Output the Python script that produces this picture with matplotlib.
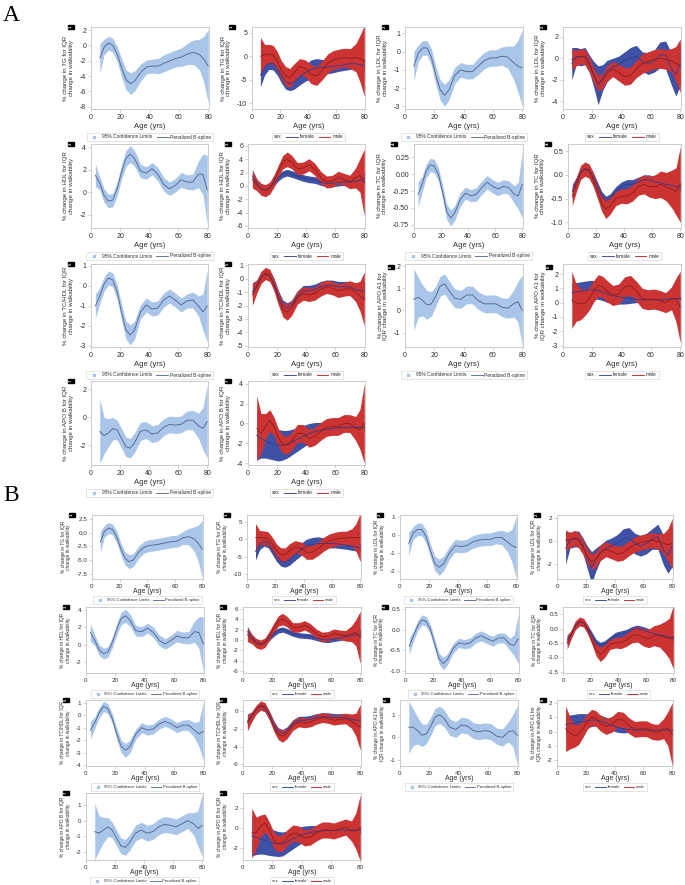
import numpy as np
import matplotlib
matplotlib.use("Agg")
import matplotlib.pyplot as plt
from matplotlib.lines import Line2D
from matplotlib.offsetbox import HPacker
from matplotlib.ticker import FormatStrFormatter

plt.rcParams['font.family'] = ['Liberation Sans', 'DejaVu Sans']

# ---------------- data ----------------
AGE6 = [6, 9, 12, 15, 18, 21, 24, 27, 30, 34, 38, 42, 46, 50, 54, 58, 62, 66, 70, 74, 77, 80]
AGE3 = [3, 6, 9, 12, 15, 18, 21, 24, 27, 30, 34, 38, 42, 46, 50, 54, 58, 62, 66, 70, 74, 77, 80]

# ---- panel A ----
TG_A = [-1.7, -0.2, 0.3, 0.0, -1.2, -3.0, -4.5, -5.0, -4.6, -3.5, -2.8, -2.7, -2.7, -2.3, -2.0, -1.7, -1.5, -1.1, -0.9, -1.2, -1.8, -2.7]
TG_A_HW = [1.9, 1.0, 0.9, 0.9, 1.0, 1.2, 1.3, 1.4, 1.3, 1.1, 0.9, 0.9, 1.0, 1.1, 1.1, 1.1, 1.2, 1.4, 1.6, 2.0, 3.0, 4.8]
TG_A_F = [-4.0, -2.5, -1.5, -1.5, -2.5, -4.2, -5.5, -5.8, -5.5, -4.5, -3.5, -2.8, -2.5, -2.4, -2.3, -2.2, -2.0, -1.8, -1.6, -1.6, -1.8, -2.0]
TG_A_F_HW = [2.5, 1.5, 1.3, 1.4, 1.5, 1.5, 1.5, 1.5, 1.5, 1.6, 1.8, 2.0, 2.0, 1.7, 1.4, 1.3, 1.2, 1.2, 1.2, 1.2, 1.3, 1.4]
TG_A_M = [0.0, 0.3, 0.5, 0.3, -1.0, -3.0, -4.2, -4.6, -3.5, -2.2, -2.6, -3.8, -4.2, -3.0, -1.5, -0.8, -0.5, -0.3, -0.5, -0.3, -0.5, -1.0]
TG_A_M_HW = [4.0, 2.2, 2.0, 2.0, 2.0, 2.0, 2.0, 2.0, 1.9, 1.7, 1.8, 2.0, 2.0, 2.0, 2.0, 2.0, 2.0, 2.0, 2.1, 3.0, 5.0, 7.5]

LDL_A = [-0.8, -0.1, 0.2, 0.2, -0.3, -1.3, -2.1, -2.4, -2.1, -1.3, -1.0, -1.1, -1.1, -0.8, -0.5, -0.35, -0.35, -0.25, -0.3, -0.6, -0.8, -0.9]
LDL_A_HW = [0.8, 0.45, 0.4, 0.4, 0.45, 0.5, 0.55, 0.6, 0.55, 0.45, 0.4, 0.4, 0.4, 0.45, 0.45, 0.45, 0.45, 0.5, 0.6, 0.9, 1.4, 2.1]
LDL_A_F = [-0.5, 0.2, 0.1, 0.2, -0.5, -1.5, -2.5, -1.8, -1.2, -0.8, -0.6, -0.2, 0.0, 0.2, -0.3, -0.5, -0.3, 0.3, 0.3, -1.0, -1.5, -0.5]
LDL_A_F_HW = [1.5, 0.8, 0.8, 0.8, 0.8, 1.2, 1.8, 1.2, 1.0, 0.8, 0.8, 0.8, 1.0, 1.0, 0.9, 1.0, 1.0, 1.2, 1.3, 1.5, 2.0, 2.0]
LDL_A_M = [-0.1, 0.0, 0.2, 0.1, -0.6, -1.6, -2.3, -2.1, -1.4, -1.0, -1.3, -1.7, -1.6, -1.0, -0.5, -0.3, -0.1, 0.0, -0.1, -0.2, -0.5, -0.7]
LDL_A_M_HW = [1.0, 0.7, 0.7, 0.7, 0.7, 0.7, 0.7, 0.7, 0.7, 0.7, 0.8, 0.8, 0.8, 0.8, 0.9, 0.9, 0.9, 0.9, 0.9, 1.1, 1.6, 2.5]

HDL_A = [1.5, 0.8, -0.3, -0.8, -0.7, 0.3, 1.8, 3.0, 3.4, 3.0, 1.9, 1.7, 2.1, 1.6, 0.7, 0.3, 0.6, 1.1, 0.9, 0.9, 1.6, 1.6, 0.2]
HDL_A_HW = [1.0, 0.6, 0.6, 0.6, 0.6, 0.6, 0.65, 0.7, 0.75, 0.7, 0.6, 0.55, 0.55, 0.6, 0.6, 0.6, 0.6, 0.65, 0.65, 0.7, 1.2, 1.8, 3.1]
HDL_A_F = [1.5, 0.5, -0.4, -0.6, -0.3, 0.5, 1.3, 1.8, 2.0, 1.8, 1.5, 1.2, 1.0, 0.9, 0.6, 0.4, 0.4, 0.5, 0.6, 0.6, 0.7, 0.8, 1.2]
HDL_A_F_HW = [1.0, 0.5, 0.5, 0.5, 0.5, 0.5, 0.5, 0.5, 0.5, 0.5, 0.5, 0.5, 0.5, 0.5, 0.5, 0.5, 0.5, 0.5, 0.5, 0.5, 0.5, 0.6, 0.8]
HDL_A_M = [1.0, 0.2, -0.5, -0.7, -0.3, 0.8, 2.3, 3.6, 4.0, 3.6, 2.6, 2.7, 3.2, 2.5, 1.3, 0.6, 0.7, 1.3, 1.0, 0.6, 1.2, 1.6, 0.5]
HDL_A_M_HW = [1.3, 0.9, 0.9, 0.9, 0.9, 0.9, 0.9, 1.0, 1.1, 1.0, 0.9, 0.9, 0.9, 0.9, 0.9, 0.9, 0.9, 0.9, 0.9, 1.0, 1.5, 2.5, 5.0]

TC_A = [-0.3, -0.15, 0.05, 0.14, 0.12, 0.0, -0.25, -0.55, -0.65, -0.58, -0.38, -0.28, -0.32, -0.3, -0.2, -0.12, -0.18, -0.22, -0.18, -0.2, -0.3, -0.32, -0.15]
TC_A_HW = [0.18, 0.12, 0.1, 0.1, 0.1, 0.1, 0.1, 0.11, 0.12, 0.11, 0.1, 0.09, 0.09, 0.1, 0.1, 0.1, 0.1, 0.1, 0.1, 0.1, 0.13, 0.2, 0.5]
TC_A_F = [-0.35, -0.15, 0.05, 0.13, 0.1, -0.05, -0.25, -0.45, -0.55, -0.5, -0.35, -0.25, -0.2, -0.2, -0.15, -0.1, -0.1, -0.15, -0.17, -0.2, -0.22, -0.25, -0.25]
TC_A_F_HW = [0.15, 0.1, 0.1, 0.1, 0.1, 0.1, 0.1, 0.1, 0.1, 0.1, 0.1, 0.1, 0.1, 0.1, 0.1, 0.1, 0.1, 0.1, 0.1, 0.1, 0.1, 0.1, 0.1]
TC_A_M = [-0.45, -0.2, 0.05, 0.12, 0.08, -0.1, -0.35, -0.6, -0.72, -0.65, -0.5, -0.45, -0.45, -0.38, -0.25, -0.2, -0.25, -0.25, -0.2, -0.25, -0.3, -0.35, -0.2]
TC_A_M_HW = [0.2, 0.15, 0.15, 0.15, 0.15, 0.15, 0.15, 0.17, 0.2, 0.18, 0.15, 0.15, 0.16, 0.17, 0.18, 0.2, 0.22, 0.25, 0.28, 0.3, 0.4, 0.5, 0.8]

TCHDL_A = [-1.0, -0.5, 0.1, 0.4, 0.3, -0.3, -1.3, -2.2, -2.45, -2.2, -1.3, -0.95, -1.15, -1.1, -0.7, -0.5, -0.7, -0.95, -0.75, -0.7, -1.0, -1.3, -1.0]
TCHDL_A_HW = [0.6, 0.4, 0.35, 0.35, 0.35, 0.35, 0.4, 0.45, 0.5, 0.45, 0.35, 0.35, 0.35, 0.35, 0.35, 0.35, 0.35, 0.35, 0.35, 0.4, 0.5, 0.9, 1.8]
TCHDL_A_F = [-1.0, -0.5, 0.1, 0.35, 0.2, -0.4, -1.3, -2.0, -2.2, -2.0, -1.3, -0.9, -0.9, -0.8, -0.6, -0.5, -0.5, -0.6, -0.6, -0.6, -0.8, -0.9, -0.9]
TCHDL_A_F_HW = [0.7, 0.4, 0.4, 0.4, 0.4, 0.4, 0.4, 0.4, 0.4, 0.4, 0.4, 0.4, 0.4, 0.4, 0.4, 0.4, 0.4, 0.4, 0.4, 0.4, 0.45, 0.55, 0.7]
TCHDL_A_M = [-1.2, -0.6, 0.1, 0.4, 0.25, -0.5, -1.5, -2.3, -2.5, -2.2, -1.4, -1.1, -1.2, -1.1, -0.8, -0.6, -0.7, -0.9, -0.8, -0.7, -1.0, -1.3, -1.5]
TCHDL_A_M_HW = [0.8, 0.5, 0.45, 0.45, 0.45, 0.45, 0.5, 0.55, 0.6, 0.55, 0.5, 0.5, 0.5, 0.5, 0.5, 0.5, 0.5, 0.5, 0.5, 0.55, 0.7, 1.1, 2.0]

APOA1_A = [0.5, 0.6, 0.45, 0.25, 0.3, 0.65, 1.1, 1.2, 0.9, 0.55, 0.5, 0.7, 0.7, 0.45, 0.3, 0.3, 0.3, 0.15, 0.1, 0.3, 0.4, 0.0]
APOA1_A_HW = [1.4, 0.9, 0.7, 0.65, 0.55, 0.45, 0.45, 0.45, 0.45, 0.42, 0.4, 0.4, 0.4, 0.4, 0.4, 0.4, 0.4, 0.42, 0.45, 0.6, 0.9, 1.6]
APOA1_A_F = [0.7, 0.75, 0.8, 0.85, 0.9, 0.9, 0.85, 0.75, 0.6, 0.5, 0.4, 0.35, 0.3, 0.25, 0.2, 0.2, 0.2, 0.2, 0.22, 0.25, 0.28, 0.3]
APOA1_A_F_HW = [0.7, 0.65, 0.65, 0.65, 0.65, 0.65, 0.62, 0.6, 0.58, 0.55, 0.5, 0.45, 0.35, 0.25, 0.15, 0.12, 0.12, 0.12, 0.12, 0.12, 0.12, 0.12]
APOA1_A_M = [0.2, 0.0, -0.1, 0.0, 0.3, 0.8, 1.2, 1.1, 0.8, 0.5, 0.6, 1.1, 1.2, 0.8, 0.3, 0.2, 0.25, 0.15, 0.0, 0.3, 0.2, -0.3]
APOA1_A_M_HW = [2.0, 1.3, 1.1, 0.9, 0.8, 0.75, 0.75, 0.75, 0.75, 0.7, 0.7, 0.7, 0.7, 0.7, 0.7, 0.7, 0.7, 0.7, 0.7, 0.8, 1.5, 2.5]

APOB_A = [-1.0, -1.3, -1.1, -0.8, -0.9, -1.5, -2.1, -2.2, -1.8, -1.0, -0.9, -1.2, -1.1, -0.7, -0.5, -0.55, -0.5, -0.2, -0.2, -0.6, -0.8, -0.3]
APOB_A_HW = [2.3, 1.3, 1.0, 0.8, 0.7, 0.7, 0.7, 0.7, 0.7, 0.65, 0.6, 0.6, 0.6, 0.6, 0.6, 0.6, 0.6, 0.65, 0.7, 0.9, 1.5, 2.6]
APOB_A_F = [-1.2, -1.5, -1.8, -2.0, -2.1, -2.2, -2.2, -2.1, -1.9, -1.6, -1.3, -1.0, -0.8, -0.7, -0.6, -0.5, -0.45, -0.4, -0.4, -0.4, -0.4, -0.4]
APOB_A_F_HW = [2.5, 2.0, 1.7, 1.6, 1.6, 1.6, 1.5, 1.4, 1.3, 1.2, 1.1, 1.0, 0.9, 0.8, 0.65, 0.55, 0.5, 0.45, 0.4, 0.4, 0.4, 0.4]
APOB_A_M = [-0.5, -1.0, -0.3, 0.3, -0.3, -1.5, -2.1, -2.2, -1.8, -1.0, -1.0, -1.5, -1.3, -0.8, -0.4, -0.3, -0.3, 0.0, 0.0, -0.5, -0.6, 0.0]
APOB_A_M_HW = [3.3, 2.0, 1.3, 1.1, 0.9, 0.9, 0.9, 0.9, 0.9, 0.9, 0.9, 0.9, 0.9, 0.9, 0.9, 0.9, 0.9, 0.9, 0.9, 1.2, 2.0, 4.0]

# ---- panel B ----
TG_B = [-1.7, 0.3, 0.9, 0.6, -0.8, -3.0, -4.7, -5.3, -5.0, -3.5, -2.6, -2.3, -2.2, -2.0, -1.8, -1.6, -1.5, -0.9, -0.7, -1.1, -1.9, -3.0]
TG_B_HW = [1.9, 1.1, 1.0, 1.0, 1.1, 1.1, 1.2, 1.3, 1.2, 1.1, 1.1, 1.1, 1.1, 1.1, 1.1, 1.1, 1.1, 1.2, 1.5, 2.2, 3.3, 5.3]
TG_B_F = [-3.5, -1.5, -0.5, -1.0, -3.0, -5.0, -6.3, -6.6, -6.0, -4.5, -3.0, -2.0, -1.5, -1.3, -1.2, -1.2, -1.3, -1.5, -1.7, -2.0, -2.2, -2.5]
TG_B_F_HW = [2.5, 1.5, 1.5, 1.5, 1.5, 1.5, 1.5, 1.5, 1.5, 1.6, 1.8, 2.0, 2.0, 2.0, 1.6, 1.3, 1.2, 1.2, 1.2, 1.2, 1.2, 1.3]
TG_B_M = [0.5, 0.5, 0.4, 0.1, -1.5, -3.5, -4.5, -4.5, -3.3, -2.2, -2.6, -3.8, -3.8, -2.8, -1.5, -0.5, 0.0, 0.3, 0.3, 0.5, 0.5, 0.5]
TG_B_M_HW = [4.0, 2.0, 2.0, 2.0, 2.0, 2.0, 2.0, 2.0, 2.0, 1.8, 1.8, 2.0, 2.0, 2.0, 2.0, 2.0, 2.0, 2.0, 2.0, 2.5, 4.0, 7.0]

LDL_B = [-0.5, 0.1, 0.3, 0.3, -0.1, -0.9, -1.6, -1.8, -1.6, -1.0, -0.6, -0.65, -0.6, -0.4, -0.3, -0.25, -0.25, -0.15, -0.15, -0.4, -0.6, -0.7]
LDL_B_HW = [0.65, 0.35, 0.35, 0.35, 0.35, 0.35, 0.4, 0.45, 0.4, 0.35, 0.35, 0.35, 0.35, 0.35, 0.35, 0.35, 0.35, 0.35, 0.4, 0.55, 0.9, 1.7]
LDL_B_F = [-0.6, 0.1, 0.2, 0.2, -0.4, -1.4, -2.3, -1.6, -1.0, -0.6, -0.4, -0.1, 0.2, 0.3, -0.2, -0.4, -0.2, 0.2, 0.4, -0.8, -1.2, -0.4]
LDL_B_F_HW = [1.4, 0.7, 0.7, 0.7, 0.7, 1.0, 1.4, 1.0, 0.7, 0.7, 0.7, 0.7, 0.9, 0.9, 0.9, 0.9, 0.9, 0.9, 1.1, 1.3, 1.6, 1.8]
LDL_B_M = [0.1, 0.1, 0.3, 0.1, -0.5, -1.3, -1.8, -1.6, -1.0, -0.7, -0.9, -1.1, -1.0, -0.6, -0.3, -0.1, 0.0, 0.1, 0.0, -0.2, -0.3, -0.2]
LDL_B_M_HW = [0.9, 0.65, 0.65, 0.65, 0.65, 0.65, 0.65, 0.65, 0.65, 0.65, 0.65, 0.65, 0.65, 0.65, 0.65, 0.65, 0.65, 0.65, 0.65, 0.9, 1.4, 2.2]

HDL_B = [1.4, 0.5, -0.6, -1.0, -0.8, 0.3, 1.8, 3.0, 3.3, 2.8, 1.6, 1.5, 1.9, 1.4, 0.5, 0.1, 0.5, 1.0, 0.8, 0.8, 1.5, 1.4, 0.1]
HDL_B_HW = [1.0, 0.6, 0.6, 0.6, 0.6, 0.6, 0.65, 0.7, 0.75, 0.7, 0.6, 0.55, 0.55, 0.6, 0.6, 0.6, 0.6, 0.65, 0.65, 0.7, 1.2, 1.8, 3.1]
HDL_B_F = [1.6, 0.6, -0.4, -0.8, -0.5, 0.4, 1.2, 1.8, 2.0, 1.7, 1.2, 0.9, 0.8, 0.7, 0.4, 0.1, 0.0, 0.2, 0.4, 0.6, 0.8, 1.0, 1.2]
HDL_B_F_HW = [1.0, 0.5, 0.5, 0.5, 0.5, 0.5, 0.5, 0.5, 0.5, 0.5, 0.5, 0.5, 0.5, 0.5, 0.5, 0.5, 0.5, 0.5, 0.5, 0.5, 0.5, 0.6, 0.8]
HDL_B_M = [1.0, 0.2, -0.6, -0.9, -0.5, 0.8, 2.3, 3.6, 4.0, 3.5, 2.4, 2.4, 2.8, 2.2, 1.2, 0.6, 0.7, 1.2, 1.0, 0.8, 1.2, 1.4, 0.5]
HDL_B_M_HW = [1.3, 0.9, 0.9, 0.9, 0.9, 0.9, 0.9, 1.0, 1.1, 1.0, 0.9, 0.9, 0.9, 0.9, 0.9, 0.9, 0.9, 0.9, 0.9, 1.0, 1.5, 2.5, 5.0]

TC_B = [-0.4, -0.15, 0.1, 0.24, 0.2, 0.0, -0.35, -0.7, -0.82, -0.72, -0.45, -0.32, -0.35, -0.32, -0.2, -0.15, -0.22, -0.28, -0.2, -0.2, -0.35, -0.38, -0.22]
TC_B_HW = [0.2, 0.12, 0.12, 0.12, 0.12, 0.12, 0.12, 0.13, 0.15, 0.13, 0.12, 0.11, 0.11, 0.12, 0.12, 0.12, 0.12, 0.12, 0.12, 0.12, 0.15, 0.25, 0.6]
TC_B_F = [-0.4, -0.2, 0.1, 0.22, 0.2, 0.0, -0.25, -0.5, -0.6, -0.55, -0.4, -0.25, -0.2, -0.15, -0.05, 0.0, -0.05, -0.12, -0.18, -0.22, -0.25, -0.3, -0.35]
TC_B_F_HW = [0.18, 0.12, 0.12, 0.12, 0.12, 0.12, 0.12, 0.12, 0.12, 0.12, 0.12, 0.12, 0.12, 0.12, 0.12, 0.12, 0.12, 0.12, 0.12, 0.12, 0.12, 0.12, 0.12]
TC_B_M = [-0.5, -0.2, 0.12, 0.25, 0.2, -0.05, -0.4, -0.75, -0.9, -0.8, -0.55, -0.5, -0.5, -0.4, -0.25, -0.2, -0.3, -0.35, -0.25, -0.25, -0.3, -0.35, -0.3]
TC_B_M_HW = [0.22, 0.15, 0.15, 0.15, 0.15, 0.15, 0.16, 0.2, 0.25, 0.22, 0.18, 0.18, 0.2, 0.22, 0.25, 0.27, 0.3, 0.32, 0.35, 0.4, 0.55, 0.7, 1.1]

TCHDL_B = [-1.2, -0.6, 0.2, 0.7, 0.5, -0.3, -1.5, -2.5, -2.8, -2.5, -1.5, -1.0, -1.2, -1.1, -0.7, -0.5, -0.7, -1.0, -0.8, -0.8, -1.2, -1.5, -1.3]
TCHDL_B_HW = [0.7, 0.45, 0.4, 0.4, 0.4, 0.4, 0.45, 0.5, 0.55, 0.5, 0.4, 0.4, 0.4, 0.4, 0.4, 0.4, 0.4, 0.4, 0.4, 0.45, 0.6, 1.0, 2.3]
TCHDL_B_F = [-1.1, -0.5, 0.2, 0.6, 0.4, -0.4, -1.5, -2.3, -2.5, -2.2, -1.4, -1.0, -1.0, -0.9, -0.7, -0.6, -0.6, -0.7, -0.7, -0.7, -0.9, -1.0, -1.0]
TCHDL_B_F_HW = [0.8, 0.45, 0.45, 0.45, 0.45, 0.45, 0.45, 0.45, 0.45, 0.45, 0.45, 0.45, 0.45, 0.45, 0.45, 0.45, 0.45, 0.45, 0.45, 0.45, 0.5, 0.6, 0.8]
TCHDL_B_M = [-1.3, -0.6, 0.2, 0.7, 0.5, -0.5, -1.7, -2.6, -2.8, -2.5, -1.6, -1.2, -1.3, -1.2, -0.9, -0.7, -0.8, -1.0, -0.9, -0.8, -1.1, -1.5, -1.8]
TCHDL_B_M_HW = [0.9, 0.55, 0.5, 0.5, 0.5, 0.5, 0.55, 0.6, 0.7, 0.6, 0.55, 0.55, 0.55, 0.55, 0.55, 0.55, 0.55, 0.55, 0.55, 0.6, 0.8, 1.3, 2.6]

APOA1_B = [0.45, 0.45, 0.3, 0.1, 0.15, 0.5, 0.9, 1.0, 0.85, 0.45, 0.35, 0.55, 0.5, 0.3, 0.25, 0.3, 0.25, 0.05, 0.0, 0.25, 0.3, 0.1]
APOA1_B_HW = [1.15, 0.8, 0.6, 0.5, 0.42, 0.4, 0.38, 0.38, 0.38, 0.36, 0.35, 0.35, 0.35, 0.35, 0.35, 0.35, 0.35, 0.36, 0.38, 0.45, 0.7, 1.3]
APOA1_B_F = [0.5, 0.55, 0.6, 0.65, 0.7, 0.75, 0.8, 0.8, 0.75, 0.6, 0.45, 0.3, 0.2, 0.15, 0.1, 0.1, 0.1, 0.1, 0.1, 0.1, 0.1, 0.1]
APOA1_B_F_HW = [0.6, 0.6, 0.6, 0.6, 0.55, 0.5, 0.45, 0.4, 0.4, 0.4, 0.38, 0.35, 0.3, 0.2, 0.15, 0.1, 0.1, 0.1, 0.1, 0.1, 0.1, 0.1]
APOA1_B_M = [0.2, -0.1, -0.3, -0.2, 0.2, 0.7, 1.0, 0.9, 0.6, 0.35, 0.5, 0.85, 0.8, 0.4, 0.15, 0.2, 0.2, 0.0, -0.05, 0.2, 0.2, -0.2]
APOA1_B_M_HW = [1.6, 1.1, 0.8, 0.7, 0.6, 0.55, 0.55, 0.55, 0.55, 0.55, 0.55, 0.55, 0.55, 0.55, 0.55, 0.55, 0.55, 0.55, 0.55, 0.7, 1.2, 2.2]

APOB_B = [-0.7, -0.8, -0.6, -0.4, -0.6, -1.1, -1.6, -1.7, -1.4, -0.8, -0.6, -0.8, -0.7, -0.4, -0.25, -0.3, -0.4, -0.2, 0.0, -0.2, -0.5, -0.3]
APOB_B_HW = [1.8, 1.1, 0.8, 0.6, 0.5, 0.5, 0.5, 0.5, 0.5, 0.5, 0.5, 0.5, 0.5, 0.5, 0.5, 0.5, 0.5, 0.5, 0.5, 0.7, 1.1, 2.0]
APOB_B_F = [-0.8, -0.95, -1.1, -1.25, -1.4, -1.5, -1.6, -1.6, -1.4, -1.1, -0.8, -0.6, -0.45, -0.35, -0.3, -0.25, -0.25, -0.2, -0.2, -0.2, -0.2, -0.2]
APOB_B_F_HW = [2.0, 1.7, 1.5, 1.4, 1.35, 1.3, 1.25, 1.2, 1.1, 1.0, 0.9, 0.8, 0.7, 0.6, 0.5, 0.45, 0.4, 0.38, 0.35, 0.35, 0.35, 0.35]
APOB_B_M = [-0.5, -0.5, 0.2, 0.5, -0.2, -1.2, -1.6, -1.5, -1.0, -0.5, -0.6, -1.0, -0.9, -0.5, -0.2, -0.2, -0.3, -0.1, 0.1, -0.3, -0.3, 0.0]
APOB_B_M_HW = [2.5, 1.6, 1.1, 0.9, 0.8, 0.8, 0.8, 0.8, 0.8, 0.8, 0.8, 0.8, 0.8, 0.8, 0.8, 0.8, 0.8, 0.8, 0.8, 1.0, 1.8, 3.3]

# ---------------- styling ----------------
W, H = 685, 885
BAND = '#a9c5e8'
LINE = '#4f5f8f'
F_BAND, F_LINE = '#3f51a5', '#2e3d8f'
M_BAND, M_LINE = '#cc3333', '#8a1f1f'
GRID = '#c4c4c4'
TXT = '#303030'

fig = plt.figure(figsize=(W / 100, H / 100), dpi=100)


def rect(l, t, r, b):
    return [l / W, 1 - b / H, (r - l) / W, (b - t) / H]


def frame(ax, lbl, ticks, ylim, fmt, num, l, t, r, b, big):
    fs = 5 if big else 4.5
    ax.set_xlim(0, 80.5)
    ax.set_ylim(*ylim)
    ax.set_xticks([0, 20, 40, 60, 80])
    ax.set_yticks(ticks)
    ax.yaxis.set_major_formatter(FormatStrFormatter(fmt))
    ax.tick_params(labelsize=fs, length=2, width=0.5, color=GRID, labelcolor=TXT, pad=1.5)
    for s in ax.spines.values():
        s.set_color(GRID)
        s.set_linewidth(0.6)
    ax.set_ylabel(lbl, fontsize=4.4 if big else 3.5, color=TXT,
                  labelpad=4 if big else 3.5, linespacing=1.2)
    ax.set_xlabel('Age (yrs)', fontsize=fs + 0.5, color=TXT)
    dx = 14 if big else 9
    ax.xaxis.set_label_coords(0.5, -dx / (b - t))
    apo1 = 'A1' in lbl
    bx = l - (14 if apo1 else 20)
    by = t + (3 if (apo1 and big) else 0)
    fig.text(bx / W, 1 - by / H, str(num), color='white', fontsize=3.2,
             rotation=90, ha='center', va='center', fontweight='bold',
             bbox=dict(boxstyle='square,pad=0.2', fc='black', ec='black'))


def legend(ax, handles, labels, l, r, b, big, title=None):
    dy = 28 if big else 21
    fs = 3.5 if big else 3.1
    leg = ax.legend(handles, labels, loc='center', ncol=len(labels),
                    bbox_to_anchor=((l + r) / 2 / W, 1 - (b + dy) / H),
                    bbox_transform=fig.transFigure, fontsize=fs,
                    frameon=True, fancybox=False, handlelength=2.4, handletextpad=0.4,
                    columnspacing=0.9, borderpad=0.4, labelcolor=TXT,
                    title=title, title_fontsize=fs)
    leg.get_frame().set_edgecolor('#cfcfcf')
    leg.get_frame().set_linewidth(0.5)
    if title:
        # put the group title to the left of the entries, as in the SAS output
        leg.get_title().set_color(TXT)
        box = HPacker(pad=leg.borderpad * fs, sep=leg.columnspacing * fs, align='center',
                      children=[leg._legend_title_box, leg._legend_handle_box])
        box.set_figure(fig)
        box.axes = ax
        box.set_offset(leg._findoffset)
        leg._legend_box = box


def overall(pos, ages, mean, hw, lbl, ticks, ylim, fmt, num, big):
    l, t, r, b = pos
    ax = fig.add_axes(rect(l, t, r, b))
    m, h = np.array(mean), np.array(hw)
    ax.fill_between(ages, m - h, m + h, color=BAND, lw=0)
    ax.plot(ages, m, color=LINE, lw=0.6)
    frame(ax, lbl, ticks, ylim, fmt, num, l, t, r, b, big)
    hs = [Line2D([], [], ls='', marker='s', ms=1.8, color=BAND),
          Line2D([], [], color=LINE, lw=0.6)]
    legend(ax, hs, ['95% Confidence Limits', 'Penalized B-spline'], l, r, b, big)


def by_sex(pos, ages, fm, fh, mm, mh, lbl, ticks, ylim, fmt, num, big):
    l, t, r, b = pos
    ax = fig.add_axes(rect(l, t, r, b))
    fm, fh, mm, mh = map(np.array, (fm, fh, mm, mh))
    ax.fill_between(ages, fm - fh, fm + fh, color=F_BAND, lw=0)
    ax.fill_between(ages, mm - mh, mm + mh, color=M_BAND, lw=0)
    ax.plot(ages, fm, color=F_LINE, lw=0.6)
    ax.plot(ages, mm, color=M_LINE, lw=0.6)
    frame(ax, lbl, ticks, ylim, fmt, num, l, t, r, b, big)
    hs = [Line2D([], [], color=F_BAND, lw=0.7),
          Line2D([], [], color=M_BAND, lw=0.7)]
    legend(ax, hs, ['female', 'male'], l, r, b, big, title='sex')


def ylab(name):
    if name == 'APO A1':
        return '% change in APO A1 for\nIQR change in walkability'
    return '% change in ' + name + ' for IQR\nchange in walkability'


# ---------------- panel A ----------------
rowsA = [(27, 109), (144, 228), (264, 347), (381, 465)]
colsA = [[(91, 209), (252, 365), (405, 523), (563, 681)],
         [(91, 208), (248, 365), (414, 523), (568, 681)],
         [(91, 208), (248, 365), (405, 523), (563, 681)],
         [(91, 208), (248, 365)]]


def posA(i, j):
    return (colsA[i][j][0], rowsA[i][0], colsA[i][j][1], rowsA[i][1])


overall(posA(0, 0), AGE6, TG_A, TG_A_HW, ylab('TG'), [-8, -6, -4, -2, 0, 2], (-8.3, 2.4), '%d', 1, True)
by_sex(posA(0, 1), AGE6, TG_A_F, TG_A_F_HW, TG_A_M, TG_A_M_HW, ylab('TG'), [-10, -5, 0, 5], (-11.2, 6.2), '%d', 1, True)
overall(posA(0, 2), AGE6, LDL_A, LDL_A_HW, ylab('LDL'), [-3, -2, -1, 0, 1], (-3.15, 1.35), '%d', 2, True)
by_sex(posA(0, 3), AGE6, LDL_A_F, LDL_A_F_HW, LDL_A_M, LDL_A_M_HW, ylab('LDL'), [-4, -2, 0, 2], (-4.7, 2.9), '%d', 2, True)
overall(posA(1, 0), AGE3, HDL_A, HDL_A_HW, ylab('HDL'), [-2, 0, 2, 4], (-3.2, 4.3), '%d', 3, True)
by_sex(posA(1, 1), AGE3, HDL_A_F, HDL_A_F_HW, HDL_A_M, HDL_A_M_HW, ylab('HDL'), [-6, -4, -2, 0, 2, 4, 6], (-6.3, 6.3), '%d', 3, True)
overall(posA(1, 2), AGE3, TC_A, TC_A_HW, ylab('TC'), [-0.75, -0.5, -0.25, 0, 0.25], (-0.8, 0.45), '%.2f', 4, True)
by_sex(posA(1, 3), AGE3, TC_A_F, TC_A_F_HW, TC_A_M, TC_A_M_HW, ylab('TC'), [-1.0, -0.5, 0.0, 0.5], (-1.12, 0.65), '%.1f', 4, True)
overall(posA(2, 0), AGE3, TCHDL_A, TCHDL_A_HW, ylab('TC/HDL'), [-3, -2, -1, 0, 1], (-3.05, 1.1), '%d', 5, True)
by_sex(posA(2, 1), AGE3, TCHDL_A_F, TCHDL_A_F_HW, TCHDL_A_M, TCHDL_A_M_HW, ylab('TC/HDL'), [-5, -4, -3, -2, -1, 0, 1], (-5.1, 1.1), '%d', 5, True)
overall(posA(2, 2), AGE6, APOA1_A, APOA1_A_HW, ylab('APO A1'), [-1, 0, 1, 2], (-1.65, 2.1), '%d', 6, True)
by_sex(posA(2, 3), AGE6, APOA1_A_F, APOA1_A_F_HW, APOA1_A_M, APOA1_A_M_HW, ylab('APO A1'), [-3, -2, -1, 0, 1, 2], (-3.1, 2.7), '%d', 6, True)
overall(posA(3, 0), AGE6, APOB_A, APOB_A_HW, ylab('APO B'), [-2, 0, 2], (-3.4, 2.6), '%d', 7, True)
by_sex(posA(3, 1), AGE6, APOB_A_F, APOB_A_F_HW, APOB_A_M, APOB_A_M_HW, ylab('APO B'), [-4, -2, 0, 2, 4], (-4.2, 4.3), '%d', 7, True)

# ---------------- panel B ----------------
rowsB = [(515, 579), (607, 673), (700, 766), (793, 860)]
colsB = [[(92, 203), (247, 361), (400, 517), (557, 673)],
         [(86, 204), (243, 361), (405, 519), (563, 674)],
         [(86, 204), (243, 361), (400, 518), (557, 673)],
         [(86, 203), (243, 361)]]


def posB(i, j):
    return (colsB[i][j][0], rowsB[i][0], colsB[i][j][1], rowsB[i][1])


overall(posB(0, 0), AGE6, TG_B, TG_B_HW, ylab('TG'), [-7.5, -5, -2.5, 0, 2.5], (-8.5, 3.3), '%.1f', 1, False)
by_sex(posB(0, 1), AGE6, TG_B_F, TG_B_F_HW, TG_B_M, TG_B_M_HW, ylab('TG'), [-10, -5, 0, 5], (-11.5, 7.0), '%d', 1, False)
overall(posB(0, 2), AGE6, LDL_B, LDL_B_HW, ylab('LDL'), [-2, -1, 0, 1], (-2.45, 1.1), '%d', 2, False)
by_sex(posB(0, 3), AGE6, LDL_B_F, LDL_B_F_HW, LDL_B_M, LDL_B_M_HW, ylab('LDL'), [-2, 0, 2], (-3.3, 2.3), '%d', 2, False)
overall(posB(1, 0), AGE3, HDL_B, HDL_B_HW, ylab('HDL'), [-2, 0, 2, 4], (-3.2, 4.3), '%d', 3, False)
by_sex(posB(1, 1), AGE3, HDL_B_F, HDL_B_F_HW, HDL_B_M, HDL_B_M_HW, ylab('HDL'), [-6, -4, -2, 0, 2, 4, 6], (-6.3, 6.3), '%d', 3, False)
overall(posB(1, 2), AGE3, TC_B, TC_B_HW, ylab('TC'), [-1.0, -0.5, 0.0, 0.5], (-1.05, 0.55), '%.1f', 4, False)
by_sex(posB(1, 3), AGE3, TC_B_F, TC_B_F_HW, TC_B_M, TC_B_M_HW, ylab('TC'), [-1.5, -1.0, -0.5, 0.0, 0.5], (-1.55, 0.75), '%.1f', 4, False)
overall(posB(2, 0), AGE3, TCHDL_B, TCHDL_B_HW, ylab('TC/HDL'), [-4, -3, -2, -1, 0, 1], (-4.05, 1.2), '%d', 5, False)
by_sex(posB(2, 1), AGE3, TCHDL_B_F, TCHDL_B_F_HW, TCHDL_B_M, TCHDL_B_M_HW, ylab('TC/HDL'), [-6, -4, -2, 0], (-6.2, 1.3), '%d', 5, False)
overall(posB(2, 2), AGE6, APOA1_B, APOA1_B_HW, ylab('APO A1'), [-1, 0, 1], (-1.26, 1.65), '%d', 6, False)
by_sex(posB(2, 3), AGE6, APOA1_B_F, APOA1_B_F_HW, APOA1_B_M, APOA1_B_M_HW, ylab('APO A1'), [-2, -1, 0, 1, 2], (-2.4, 2.2), '%d', 6, False)
overall(posB(3, 0), AGE6, APOB_B, APOB_B_HW, ylab('APO B'), [-2, -1, 0, 1], (-2.5, 1.75), '%d', 7, False)
by_sex(posB(3, 1), AGE6, APOB_B_F, APOB_B_F_HW, APOB_B_M, APOB_B_M_HW, ylab('APO B'), [-2, 0, 2], (-3.2, 3.5), '%d', 7, False)

fig.text(3 / W, 1 - 5 / H, 'A', fontsize=17, family='Liberation Serif', va='top', ha='left')
fig.text(3 / W, 1 - 485 / H, 'B', fontsize=17, family='Liberation Serif', va='top', ha='left')

fig.savefig('out.png', dpi=100)
